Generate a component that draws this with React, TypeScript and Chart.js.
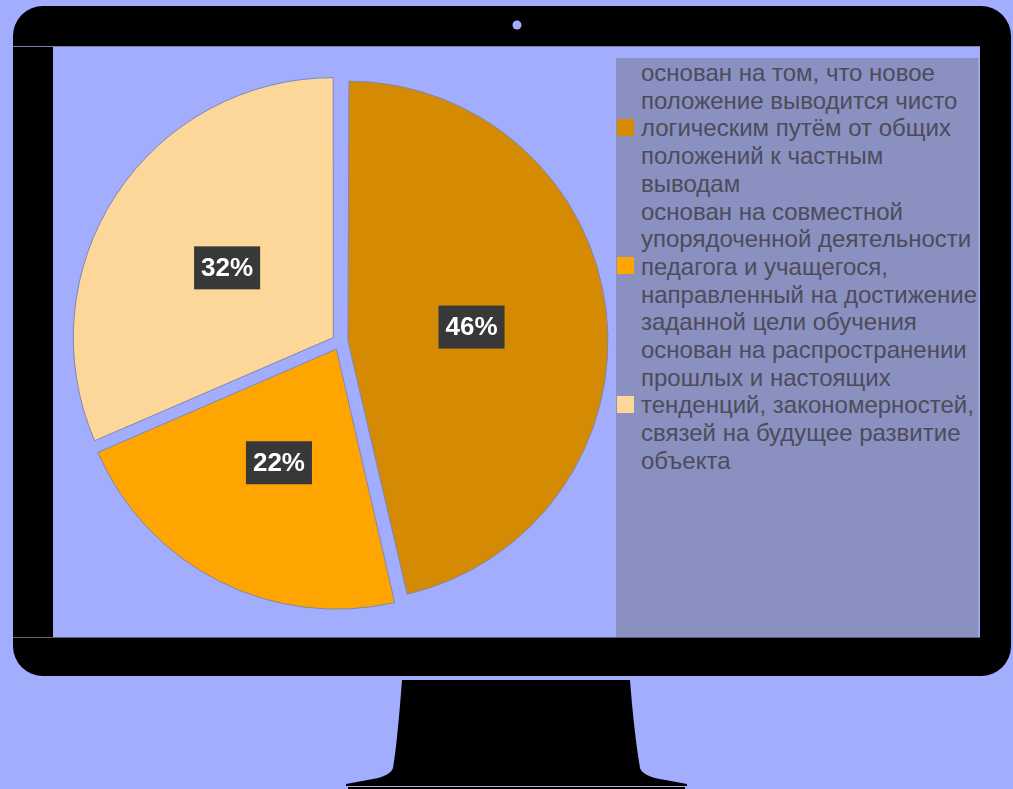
import React, { useEffect, useRef } from "react";
import { Chart, registerables } from "chart.js";

Chart.register(...registerables);

// ---- data ----
const categories: string[][] = [
  ["основан на том, что новое", "положение выводится чисто", "логическим путём от общих", "положений к частным", "выводам"],
  ["основан на совместной", "упорядоченной деятельности", "педагога и учащегося,", "направленный на достижение", "заданной цели обучения"],
  ["основан на распространении", "прошлых и настоящих", "тенденций, закономерностей,", "связей на будущее развитие", "объекта"],
];
const values: number[] = [46.4, 22.1, 31.5];
const sliceColors: string[] = ["#D48A02", "#FFA502", "#FDD79A"];

const BG = "#A3ADFD";
const LEGEND_BG = "#8A90C0";

// keep all slices at the same radius when exploded with `offset`
const uniformRadius = {
  id: "uniformRadius",
  afterDatasetUpdate(_chart: any, args: any) {
    args.meta.data.forEach((arc: any) => {
      const off = ((arc.options && arc.options.offset) || 0) / 4;
      const fix = 1 - Math.sin(Math.min(Math.PI, arc.circumference || 0));
      arc.outerRadius = arc.outerRadius - off * fix;
    });
  },
};

const pctLabels = {
  id: "pctLabels",
  afterDatasetsDraw(chart: any) {
    const ctx = chart.ctx as CanvasRenderingContext2D;
    const meta = chart.getDatasetMeta(0);
    const data = chart.data.datasets[0].data as number[];
    const total = data.reduce((a, b) => a + b, 0);
    ctx.save();
    ctx.font = 'bold 26px "Liberation Sans", Arial, sans-serif';
    ctx.textAlign = "center";
    ctx.textBaseline = "middle";
    meta.data.forEach((arc: any, i: number) => {
      const { x, y, startAngle, endAngle, outerRadius } = arc.getProps(
        ["x", "y", "startAngle", "endAngle", "outerRadius"],
        true
      );
      const mid = (startAngle + endAngle) / 2;
      const off = ((arc.options && arc.options.offset) || 0) / 4;
      const r = outerRadius * 0.49 + off;
      const px = x + Math.cos(mid) * r;
      const py = y + Math.sin(mid) * r;
      const text = Math.round((data[i] / total) * 100) + "%";
      const w = ctx.measureText(text).width + 14;
      const h = 43;
      ctx.fillStyle = "#383838";
      ctx.fillRect(px - w / 2, py - h / 2, w, h);
      ctx.fillStyle = "#ffffff";
      ctx.fillText(text, px, py + 1);
    });
    ctx.restore();
  },
};

function PieChart() {
  const ref = useRef<HTMLCanvasElement | null>(null);
  useEffect(() => {
    if (!ref.current) return;
    const chart = new Chart(ref.current, {
      type: "pie",
      data: {
        labels: categories.map((c) => c.join(" ")),
        datasets: [
          {
            data: values,
            backgroundColor: sliceColors,
            borderColor: "#7E86B4",
            borderWidth: 1,
            offset: 32,
          } as any,
        ],
      },
      options: {
        responsive: false,
        maintainAspectRatio: false,
        animation: false,
        events: [],
        radius: 260,
        layout: { padding: 0 },
        plugins: {
          legend: { display: false },
          tooltip: { enabled: false },
        },
      } as any,
      plugins: [uniformRadius, pctLabels],
    });
    return () => chart.destroy();
  }, []);
  return (
    <canvas
      ref={ref}
      width={574}
      height={590}
      style={{ position: "absolute", left: 53, top: 47, width: 574, height: 590 }}
    />
  );
}

function Legend() {
  const lineH = 27.7;
  return (
    <div
      style={{
        position: "absolute",
        left: 616,
        top: 58,
        width: 363,
        height: 579,
        background: LEGEND_BG,
        boxSizing: "border-box",
        borderRight: "1px solid #9aa0d0",
        fontFamily: '"Liberation Sans", Arial, sans-serif',
        fontSize: 24,
        color: "#4C4C5A",
      }}
    >
      {categories.map((lines, i) => (
        <div key={i} style={{ position: "relative", height: lines.length * lineH }}>
          <div
            style={{
              position: "absolute",
              left: 1,
              top: (lines.length * lineH) / 2 - 8.5,
              width: 17,
              height: 17,
              background: sliceColors[i],
            }}
          />
          <div style={{ position: "absolute", left: 25, top: 1, lineHeight: lineH + "px", whiteSpace: "nowrap" }}>
            {lines.map((l, j) => (
              <div key={j}>{l}</div>
            ))}
          </div>
        </div>
      ))}
    </div>
  );
}

export default function App() {
  return (
    <div
      style={{
        position: "fixed",
        left: 0,
        top: 0,
        width: 1013,
        height: 789,
        background: BG,
        overflow: "hidden",
      }}
    >
      <svg width={1013} height={789} style={{ position: "absolute", left: 0, top: 0 }}>
        <rect x={13} y={6} width={998} height={670} rx={30} ry={30} fill="#000" />
        <circle cx={517} cy={25} r={4.5} fill={BG} />
        <rect x={53} y={47} width={927} height={590} fill={BG} />
        <line x1={13} y1={46.5} x2={980} y2={46.5} stroke="#7A80A8" strokeWidth={1} />
        <line x1={13} y1={637.5} x2={980} y2={637.5} stroke="#5A5E7A" strokeWidth={1} />
        <path
          d="M402,680 L630,680 C633,720 637,750 640,768 Q643,776 660,779 L687,784 L687,786 L346,786 L346,784 L373,779 Q390,776 393,768 C396,750 399,720 402,680 Z"
          fill="#000"
        />
        <rect x={348} y={787} width={337} height={2} fill="#000" />
      </svg>
      <PieChart />
      <Legend />
    </div>
  );
}
